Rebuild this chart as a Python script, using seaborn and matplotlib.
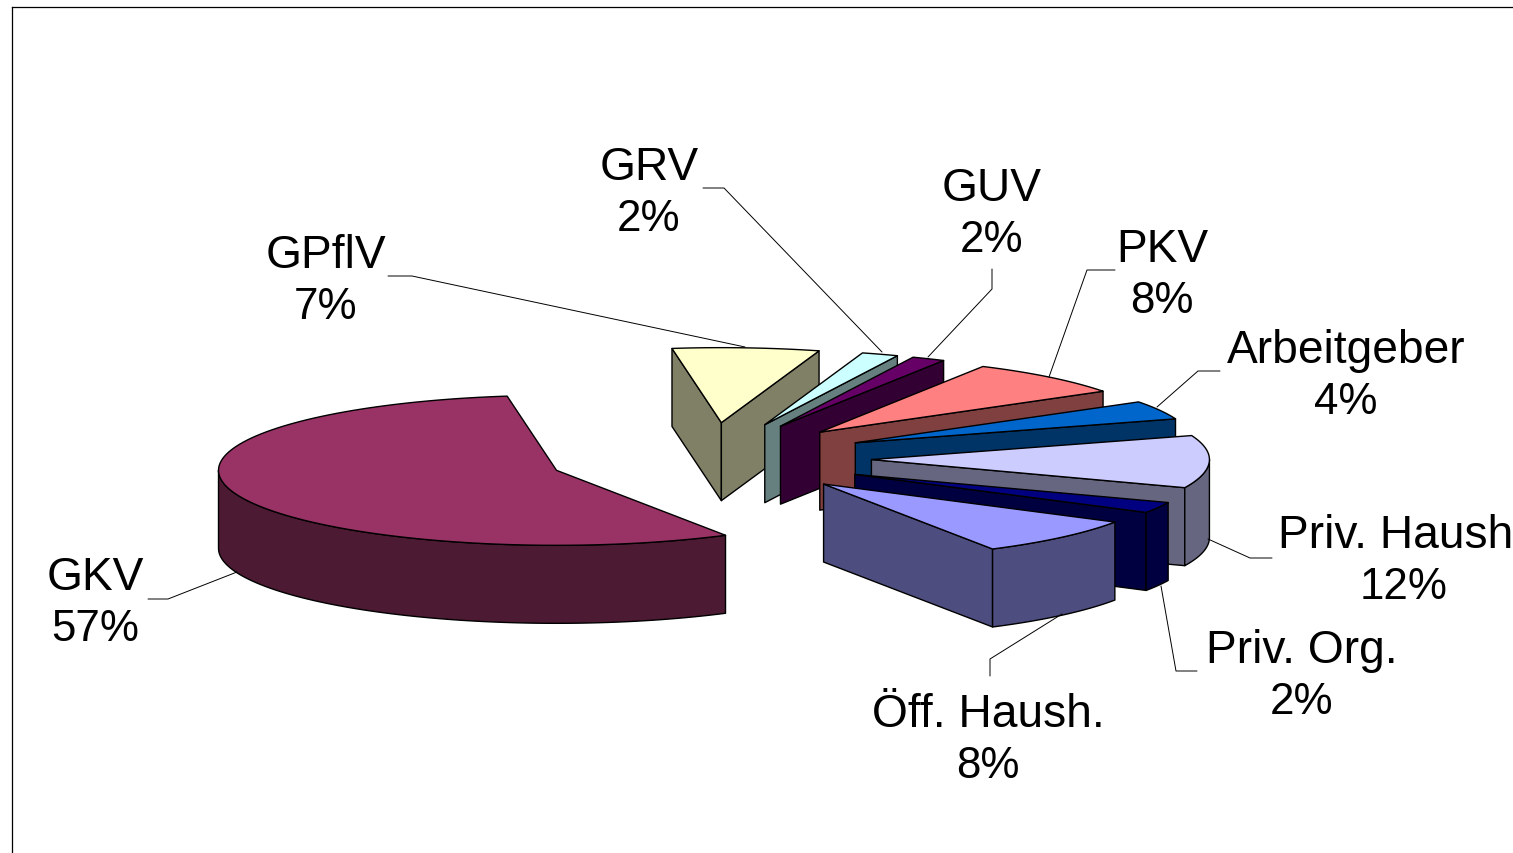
import numpy as np
import matplotlib
matplotlib.use("Agg")
import matplotlib.pyplot as plt
import seaborn as sns

# -------------------------
# Data
# -------------------------
labels = ["GKV", "GPflV", "GRV", "GUV", "PKV", "Arbeitgeber",
          "Priv. Haush", "Priv. Org.", "Öff. Haush."]
printed_pct = [57, 7, 2, 2, 8, 4, 12, 2, 8]
# slice sizes as measured on the picture, the printed numbers don't add up to 100
shares = [56.0, 7.0, 1.75, 1.6, 7.8, 4.0, 11.3, 2.35, 8.2]
top_colors = ["#993366", "#FFFFCC", "#CCFFFF", "#660066", "#FF8080",
              "#0066CC", "#CCCCFF", "#000080", "#9999FF"]

# -------------------------
# Layout (pixels of the picture)
# -------------------------
W, H = 1513, 854
cx, cy = 709.5, 459.5
rx, ry = 338, 75
depth = 78
explode = 162 / rx
start_angle = 60

# text centre x, baseline y of the first line
label_pos = [(95, 590), (326, 268), (649, 180), (992, 201), (1162, 262),
             (1346, 363), (1404, 548), (1302, 663), (988, 727)]
name_shift = [0, 0, 0, 0, 0, 0, -8, 0, 0]
line_step = 51
leaders = [
    [(237, 573), (168, 600), (148, 600)],
    [(745, 348), (412, 277), (388, 277)],
    [(882, 353), (724, 189), (703, 189)],
    [(928, 358), (992, 290), (992, 270)],
    [(1049, 378), (1087, 271), (1115, 271)],
    [(1157, 408), (1198, 372), (1220, 372)],
    [(1208, 540), (1250, 559), (1272, 559)],
    [(1161, 587), (1176, 672), (1197, 672)],
    [(1062, 615), (990, 660), (990, 677)],
]

sns.set_theme(style="white")
plt.rcParams["font.family"] = ["Liberation Sans", "DejaVu Sans"]

fig = plt.figure(figsize=(W / 100, H / 100), dpi=100, facecolor="white")
ax = fig.add_axes([12 / W, 0, 1 - 12 / W, (H - 8) / H])
ax.set_xlim(12, W)
ax.set_ylim(H, 8)
ax.set_xticks([])
ax.set_yticks([])
for side in ["right", "bottom"]:
    ax.spines[side].set_visible(False)
for side in ["left", "top"]:
    ax.spines[side].set_color("black")
    ax.spines[side].set_linewidth(0.9)

palette = sns.color_palette(top_colors)
edge = dict(edgecolor="black", linewidth=1.0, joinstyle="round")


def point(ox, oy, ang):
    return ox + rx * np.cos(ang), oy + ry * np.sin(ang)


def draw_slice(a0, a1, color, order):
    mid = (a0 + a1) / 2
    ox = cx + explode * rx * np.cos(mid)
    oy = cy + explode * ry * np.sin(mid)
    dark = tuple(c * 0.5 for c in color)

    # cut walls, only the ones turned to the viewer
    walls = []
    if np.cos(a0) < 0:
        walls.append(a0)
    if np.cos(a1) > 0:
        walls.append(a1)
    walls.sort(key=lambda a: np.sin(a))
    for a in walls:
        px, py = point(ox, oy, a)
        ax.fill([ox, px, px, ox], [oy, py, py + depth, oy + depth],
                facecolor=dark, zorder=order, **edge)

    # outer rim, lower half of the ellipse only
    for k in range(0, 2):
        lo = max(a0, 2 * np.pi * k)
        hi = min(a1, 2 * np.pi * k + np.pi)
        if hi > lo:
            t = np.linspace(lo, hi, 80)
            xs, ys = point(ox, oy, t)
            ax.fill(np.r_[xs, xs[::-1]], np.r_[ys, ys[::-1] + depth],
                    facecolor=dark, zorder=order, **edge)

    # top face
    t = np.linspace(a0, a1, 120)
    xs, ys = point(ox, oy, t)
    ax.fill(np.r_[ox, xs], np.r_[oy, ys], facecolor=color, zorder=order, **edge)


angles = np.cumsum([0] + shares) / sum(shares) * 2 * np.pi + np.radians(start_angle)
slices = list(zip(angles[:-1], angles[1:], palette))
slices.sort(key=lambda s: np.sin((s[0] + s[1]) / 2) if s[1] - s[0] < np.pi else 2)
for i, (a0, a1, col) in enumerate(slices):
    draw_slice(a0, a1, col, 2 + i)

for name, val, pos, dx, line in zip(labels, printed_pct, label_pos, name_shift, leaders):
    xs, ys = zip(*line)
    ax.plot(xs, ys, color="black", lw=0.7, zorder=20, clip_on=False)
    ax.text(pos[0] + dx, pos[1], name, ha="center", va="baseline",
            fontsize=33.2, color="black", zorder=21, clip_on=False)
    ax.text(pos[0], pos[1] + line_step, f"{val}%", ha="center", va="baseline",
            fontsize=31.6, color="black", zorder=21, clip_on=False)

fig.savefig("out.png", dpi=100)
plt.close(fig)
